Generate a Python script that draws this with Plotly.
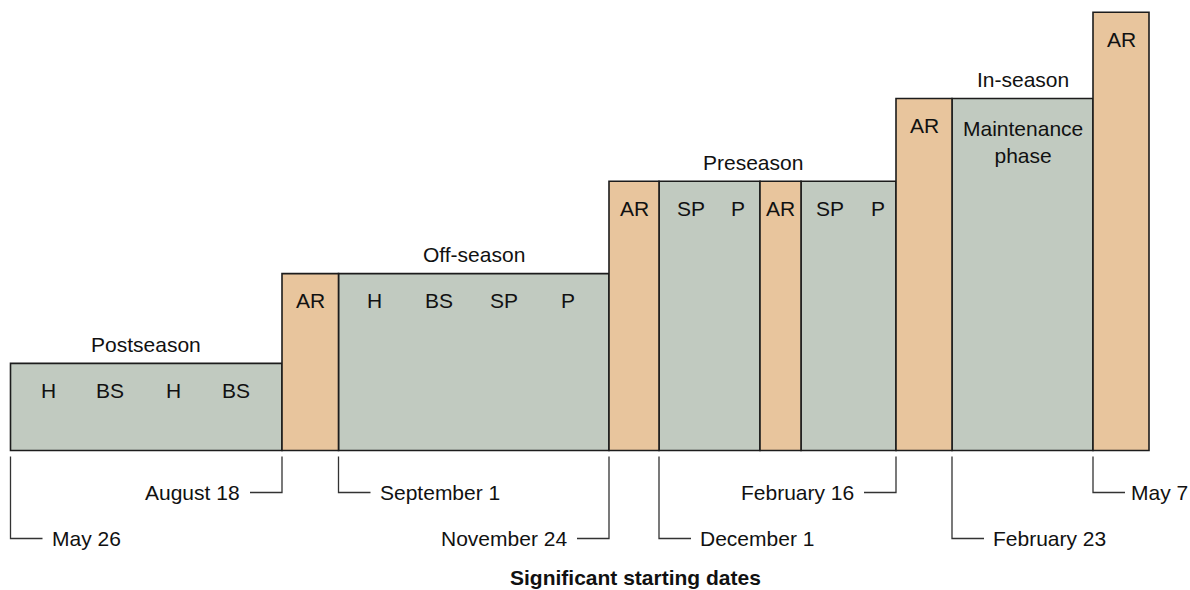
import plotly.graph_objects as go

# ---------------- DATA ----------------
# Schematic timeline blocks (x in timeline units, level = relative training volume/intensity level)
block_kind = ["train", "rest", "train", "rest", "train", "rest", "train", "rest", "train", "rest"]
block_start = [0.0, 27.15, 32.8, 59.85, 64.85, 74.95, 79.05, 88.55, 94.15, 108.25]
block_end = [27.15, 32.8, 59.85, 64.85, 74.95, 79.05, 88.55, 94.15, 108.25, 113.85]
block_level = [0.99, 2.01, 2.01, 3.06, 3.06, 3.06, 3.06, 4.0, 4.0, 4.98]
block_labels = [["H", "BS", "H", "BS"], ["AR"], ["H", "BS", "SP", "P"], ["AR"],
                ["SP", "P"], ["AR"], ["SP", "P"], ["AR"], ["Maintenance<br>phase"], ["AR"]]

season_names = ["Postseason", "Off-season", "Preseason", "In-season"]
season_first_block = [0, 2, 3, 8]
season_last_block = [0, 2, 6, 8]

date_labels = ["May 26", "August 18", "September 1", "November 24",
               "December 1", "February 16", "February 23", "May 7"]
date_block = [0, 1, 2, 3, 4, 7, 8, 9]
date_side = ["right", "left", "right", "left", "right", "left", "right", "right"]
date_row = ["low", "high", "high", "low", "low", "high", "low", "high"]

axis_title = "Significant starting dates"

# ---------------- STYLE ----------------
W, H = 1190, 590
PX_X = 10.0   # pixels per timeline unit
PX_Y = 88.0   # pixels per level unit
X0_PX = 10.5  # pixel of timeline 0
Y0_PX = 450.5  # pixel of level 0
x_range = [-X0_PX / PX_X, (W - X0_PX) / PX_X]
y_range = [-(H - Y0_PX) / PX_Y, Y0_PX / PX_Y]

def dx(px):
    return px / PX_X

def dy(px):
    return px / PX_Y

FONT = "Liberation Sans, Arial, Helvetica, sans-serif"
FS = 21
TXT = "#111111"
colors = {"train": "#C1CAC0", "rest": "#E8C59D"}
EDGE = "#1c1c1c"
LEADER = "#333333"

label_frac = {
    0: [0.139, 0.368, 0.600, 0.831],
    2: [0.133, 0.373, 0.613, 0.849],
    4: [0.317, 0.782],
    6: [0.305, 0.810],
}

fig = go.Figure()

# Blocks as bars
for kind in ["train", "rest"]:
    idx = [i for i, k in enumerate(block_kind) if k == kind]
    fig.add_trace(go.Bar(
        x=[block_start[i] for i in idx],
        y=[block_level[i] for i in idx],
        width=[block_end[i] - block_start[i] for i in idx],
        offset=0,
        base=0,
        marker=dict(color=colors[kind], line=dict(color=EDGE, width=1.6)),
        hoverinfo="skip",
        showlegend=False,
    ))

annotations = []

# Labels inside blocks
for i, labs in enumerate(block_labels):
    w = block_end[i] - block_start[i]
    fr = label_frac.get(i, [0.5] * len(labs))
    for lab, f in zip(labs, fr):
        multi = "<br>" in lab
        annotations.append(dict(
            x=block_start[i] + f * w, y=block_level[i],
            xref="x", yref="y", text=lab, showarrow=False,
            xanchor="center", yanchor="middle",
            yshift=-(43 if multi else 27),
            font=dict(family=FONT, size=FS, color=TXT),
        ))

# Season titles
for name, a, b in zip(season_names, season_first_block, season_last_block):
    annotations.append(dict(
        x=(block_start[a] + block_end[b]) / 2, y=block_level[a],
        xref="x", yref="y", text=name, showarrow=False,
        xanchor="center", yanchor="middle", yshift=19,
        font=dict(family=FONT, size=FS, color=TXT),
    ))

# Date leaders
for k, (lab, bi, side, row) in enumerate(zip(date_labels, date_block, date_side, date_row)):
    xb = block_start[bi]
    y_top = -dy(6)
    y_bot = -dy(42) if row == "high" else -dy(88)
    sgn = 1 if side == "right" else -1
    x_end = xb + sgn * dx(32)
    fig.add_trace(go.Scatter(
        x=[xb, xb, x_end], y=[y_top, y_bot, y_bot],
        mode="lines", line=dict(color=LEADER, width=1.3),
        hoverinfo="skip", showlegend=False,
    ))
    gap = 7 if side == "right" else 8
    if k == len(date_labels) - 1:
        gap = 4  # keep the last label inside the right edge
    annotations.append(dict(
        x=x_end + sgn * dx(gap), y=y_bot, xref="x", yref="y",
        text=lab, showarrow=False,
        xanchor="left" if side == "right" else "right", yanchor="middle",
        font=dict(family=FONT, size=FS, color=TXT),
    ))

annotations.append(dict(
    x=635 / W, y=1 - 577 / H, xref="paper", yref="paper",
    text="<b>" + axis_title + "</b>", showarrow=False,
    xanchor="center", yanchor="middle",
    font=dict(family=FONT, size=FS, color=TXT),
))

fig.update_layout(
    width=W, height=H,
    margin=dict(l=0, r=0, t=0, b=0),
    paper_bgcolor="white", plot_bgcolor="white",
    xaxis=dict(range=x_range, visible=False, fixedrange=True),
    yaxis=dict(range=y_range, visible=False, fixedrange=True),
    barmode="overlay",
    annotations=annotations,
    showlegend=False,
)

fig.write_html(
    "out.html",
    config={"displayModeBar": False},
    post_script="document.body.style.margin='0px';document.body.style.overflow='hidden';",
)
